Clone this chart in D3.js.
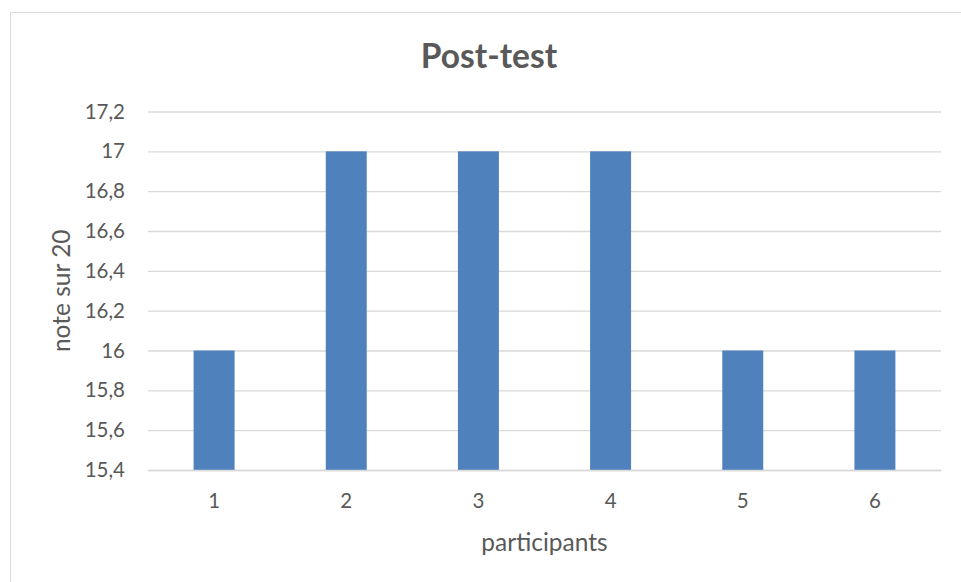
<!DOCTYPE html>
<html><head><meta charset="utf-8">
<script src="https://cdn.jsdelivr.net/npm/d3@7"></script>
<style>body{margin:0;background:#fff;}svg{display:block;}text{font-family:Lato,"Open Sans",sans-serif;}</style>
</head><body>
<script>
const categories = ["1","2","3","4","5","6"];
const values = [16, 17, 17, 17, 16, 16];
const yTicks = [15.4, 15.6, 15.8, 16, 16.2, 16.4, 16.6, 16.8, 17, 17.2];
const chartTitle = "Post-test";
const xTitle = "participants";
const yTitle = "note sur 20";

const W = 961, H = 582;
const svg = d3.select("body").append("svg").attr("width", W).attr("height", H);
svg.append("rect").attr("x", 10.5).attr("y", 12.5).attr("width", 970).attr("height", 600)
  .attr("fill", "#fff").attr("stroke", "#d9d9d9").attr("stroke-width", 1);

const pL = 148, pR = 941, pT = 111.5, pB = 470;
const x = d3.scaleBand().domain(categories).range([pL, pR]).paddingInner(0.69).paddingOuter(0.345);
const y = d3.scaleLinear().domain([15.4, 17.2]).range([pB, pT]);
const fmt = v => d3.format(".1~f")(v).replace(".", ",");

const yAxis = svg.append("g").attr("transform", `translate(${pL},0)`)
  .call(d3.axisLeft(y).tickValues(yTicks).tickSize(-(pR - pL)).tickPadding(23).tickFormat(fmt));
yAxis.select(".domain").remove();
yAxis.selectAll(".tick line").attr("stroke", "#d9d9d9").attr("stroke-width", 1.3);
yAxis.selectAll(".tick text").attr("fill", "#595959").attr("font-size", 20.5);

svg.append("g").selectAll("rect").data(values).join("rect")
  .attr("x", (d, i) => x(categories[i])).attr("width", x.bandwidth())
  .attr("y", d => y(d)).attr("height", d => pB - y(d))
  .attr("fill", "#4f81bd");

const xAxis = svg.append("g").attr("transform", `translate(0,${pB})`)
  .call(d3.axisBottom(x).tickSize(0).tickPadding(23));
xAxis.select(".domain").attr("stroke", "#d9d9d9").attr("stroke-width", 1.3);
xAxis.selectAll(".tick text").attr("fill", "#595959").attr("font-size", 20.5);

svg.append("text").attr("x", 489).attr("y", 68).attr("text-anchor", "middle")
  .attr("font-size", 33.5).attr("font-weight", "bold").attr("fill", "#595959").text(chartTitle);
svg.append("text").attr("x", (pL + pR) / 2).attr("y", 551).attr("text-anchor", "middle")
  .attr("font-size", 24.5).attr("fill", "#595959").text(xTitle);
svg.append("text").attr("transform", `translate(70,${(pT + pB) / 2}) rotate(-90)`)
  .attr("text-anchor", "middle").attr("font-size", 24.5).attr("fill", "#595959").text(yTitle);
</script>
</body></html>
